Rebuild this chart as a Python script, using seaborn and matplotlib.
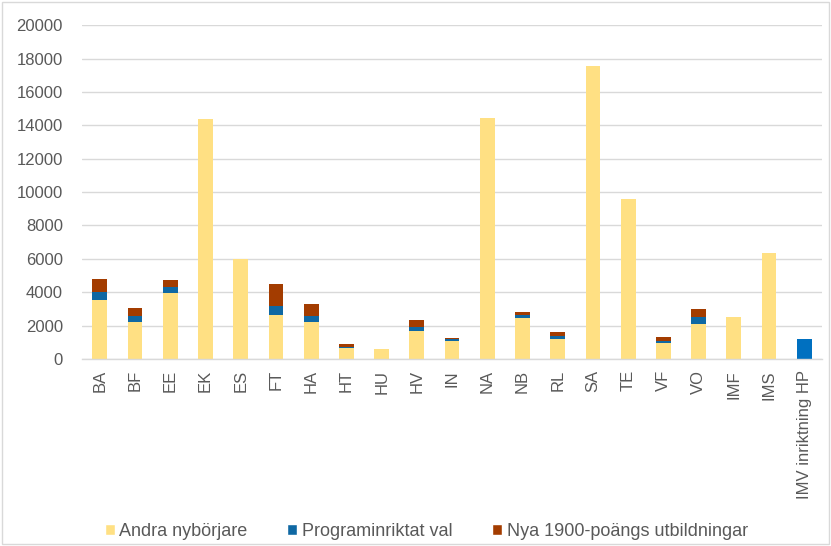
import matplotlib
matplotlib.use("Agg")
import matplotlib.pyplot as plt
import seaborn as sns
import numpy as np
import pandas as pd
from matplotlib.patches import Patch, Rectangle

categories = ["BA", "BF", "EE", "EK", "ES", "FT", "HA", "HT", "HU", "HV", "IN",
              "NA", "NB", "RL", "SA", "TE", "VF", "VO", "IMF", "IMS", "IMV inriktning HP"]
andra = [3550, 2220, 3930, 14380, 6000, 2640, 2200, 650, 620, 1680, 1080,
         14450, 2480, 1220, 17560, 9600, 940, 2120, 2520, 6330, 0]
program = [440, 340, 360, 0, 0, 520, 400, 70, 0, 260, 100,
           0, 180, 180, 0, 0, 120, 380, 0, 0, 1200]
nya = [780, 520, 420, 0, 0, 1320, 680, 180, 0, 380, 80,
       0, 160, 220, 0, 0, 260, 480, 0, 0, 0]
series_names = ["Andra nybörjare", "Programinriktat val", "Nya 1900-poängs utbildningar"]
yticks = [0, 2000, 4000, 6000, 8000, 10000, 12000, 14000, 16000, 18000, 20000]

c_yellow = "#FFE083"
c_blue = "#0F68A3"
c_blue_hp = "#0070C0"
c_brown = "#A33C00"
txt = "#595959"

sns.set_theme(style="white")
plt.rcParams['font.family'] = ['Liberation Sans', 'DejaVu Sans']

df = pd.DataFrame({"cat": categories, "andra": andra, "program": program, "nya": nya})
a = np.array(andra); p = np.array(program)

fig = plt.figure(figsize=(8.31, 5.46), dpi=100)
ax = fig.add_axes([0.099, 0.3425, 0.890, 0.6115])

w = 0.42
sns.barplot(data=df, x="cat", y="andra", color=c_yellow, width=w, ax=ax,
            saturation=1, linewidth=0, order=categories)
n0 = len(ax.patches)
sns.barplot(data=df, x="cat", y="program", color=c_blue, width=w, ax=ax,
            saturation=1, linewidth=0, order=categories, bottom=a)
# last category uses brighter blue
ax.patches[n0 + len(categories) - 1].set_facecolor(c_blue_hp)
sns.barplot(data=df, x="cat", y="nya", color=c_brown, width=w, ax=ax,
            saturation=1, linewidth=0, order=categories, bottom=a + p)

ax.set_ylim(0, 20000)
ax.set_xlim(-0.5, len(categories) - 0.5)
ax.set_yticks(yticks)
ax.set_yticklabels([str(v) for v in yticks], fontsize=12, color=txt)
ax.set_xticks(range(len(categories)))
ax.set_xticklabels(categories, rotation=90, fontsize=12, color=txt)
ax.tick_params(axis="y", length=0, pad=14)
ax.tick_params(axis="x", length=0, pad=8)
ax.set_xlabel(""); ax.set_ylabel("")
ax.yaxis.grid(True, color="#D9D9D9", linewidth=1)
ax.set_axisbelow(True)
for s in ["top", "right", "left"]:
    ax.spines[s].set_visible(False)
ax.spines["bottom"].set_color("#D9D9D9")
ax.spines["bottom"].set_linewidth(1)

handles = [Patch(facecolor=c_yellow, label=series_names[0]),
           Patch(facecolor=c_blue, label=series_names[1]),
           Patch(facecolor=c_brown, label=series_names[2])]
fig.legend(handles=handles, loc="center", bbox_to_anchor=(0.513, 0.026), ncol=3,
           frameon=False, fontsize=13, labelcolor=txt, handlelength=0.55,
           handleheight=0.55, columnspacing=2.2, handletextpad=0.25)

fig.patches.append(Rectangle((0.003, 0.003), 0.994, 0.994, transform=fig.transFigure,
                             fill=False, edgecolor="#D9D9D9", linewidth=1))

fig.savefig("out.png", dpi=100)
